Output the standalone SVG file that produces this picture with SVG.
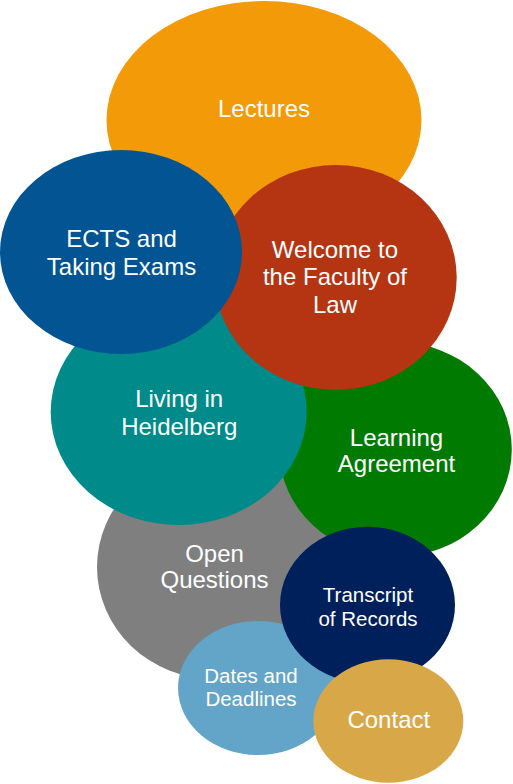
<svg xmlns="http://www.w3.org/2000/svg" width="513" height="784" viewBox="0 0 513 784">
<style>
text{font-family:"Liberation Sans",Arial,sans-serif;fill:#fff;text-anchor:middle;font-size:24px}
.s{font-size:20.5px}
</style>
<rect width="513" height="784" fill="#fff"/>
<g id="lectures"><ellipse cx="264" cy="120" rx="157.5" ry="119" fill="#F39A08"/><text x="264" y="117">Lectures</text></g>
<g id="open-questions"><ellipse cx="214" cy="567" rx="117" ry="112" fill="#7F7F7F"/><text x="214.5" y="562">Open</text><text x="214.5" y="588">Questions</text></g>
<g id="learning-agreement"><ellipse cx="395.5" cy="449.5" rx="116.3" ry="107.5" fill="#017A01"/><text x="396.5" y="446">Learning</text><text x="396.5" y="472">Agreement</text></g>
<g id="living"><ellipse cx="178.7" cy="412" rx="128" ry="113" fill="#008A8A"/><text x="179.2" y="407">Living in</text><text x="179.2" y="435">Heidelberg</text></g>
<g id="welcome"><ellipse cx="335.7" cy="277.5" rx="121" ry="112.5" fill="#B53512"/><text x="335" y="258">Welcome to</text><text x="335" y="285">the Faculty of</text><text x="335" y="312.5">Law</text></g>
<g id="ects"><ellipse cx="121" cy="252" rx="121" ry="102" fill="#025492"/><text x="121.5" y="247">ECTS and</text><text x="121.5" y="275">Taking Exams</text></g>
<g id="dates"><ellipse cx="258" cy="688" rx="80" ry="67" fill="#63A5C8"/><text class="s" x="251" y="682.5">Dates and</text><text class="s" x="251" y="706">Deadlines</text></g>
<g id="transcript"><ellipse cx="367.5" cy="605" rx="87.5" ry="78.3" fill="#00205C"/><text class="s" x="368" y="601.5">Transcript</text><text class="s" x="368" y="626">of Records</text></g>
<g id="contact"><ellipse cx="388.3" cy="721" rx="75" ry="61.7" fill="#D8A848"/><text x="388.8" y="728.3">Contact</text></g>
<g id="connectors"/>
</svg>
